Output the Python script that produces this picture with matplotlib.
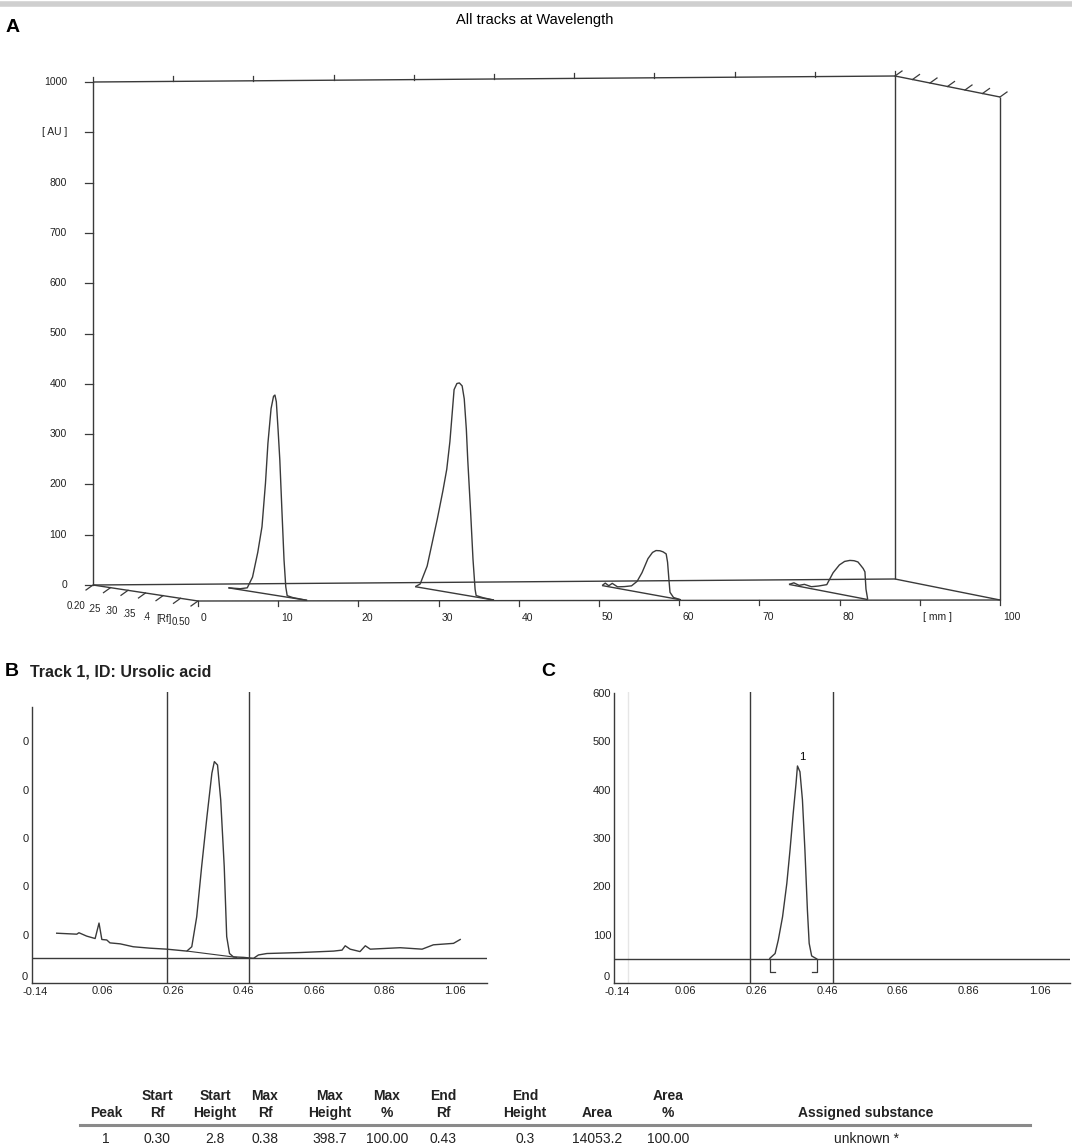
import numpy as np
import matplotlib.pyplot as plt
import matplotlib.transforms as mtransforms

plt.rcParams['font.family'] = ['Liberation Sans', 'DejaVu Sans']
narrow = ['Liberation Sans Narrow', 'Liberation Sans', 'DejaVu Sans']

# ---------------- data: panel A (3D view of all tracks) ----------------
au_ticks = [0, 100, 200, 300, 400, 500, 600, 700, 800, 900, 1000]
au_labels = ['0', '100', '200', '300', '400', '500', '600', '700', '800', '[ AU ]', '1000']
mm_ticks = [0, 10, 20, 30, 40, 50, 60, 70, 80, 90, 100]
mm_labels = ['0', '10', '20', '30', '40', '50', '60', '70', '80', '[ mm ]', '100']
depth_ticks = [0.20, 0.25, 0.30, 0.35, 0.40, 0.45, 0.50]
depth_labels = ['0.20', '.25', '.30', '.35', '.4', '[Rf]', '0.50']

track_mm = [14.0, 37.3, 60.6, 83.9]
track_rf = [
    [0.266, 0.30, 0.32, 0.335, 0.35, 0.362, 0.372, 0.379, 0.388, 0.395, 0.399,
     0.403, 0.408, 0.413, 0.419, 0.425, 0.430, 0.434, 0.45, 0.491],
    [0.266, 0.28, 0.30, 0.315, 0.329, 0.345, 0.356, 0.365, 0.377, 0.385, 0.392,
     0.400, 0.406, 0.412, 0.416, 0.424, 0.431, 0.437, 0.44, 0.46, 0.491],
    [0.266, 0.275, 0.285, 0.295, 0.31, 0.33, 0.35, 0.366, 0.38, 0.397, 0.41,
     0.42, 0.431, 0.44, 0.449, 0.453, 0.457, 0.46, 0.47, 0.491],
    [0.266, 0.28, 0.295, 0.31, 0.33, 0.35, 0.374, 0.392, 0.41, 0.425, 0.44,
     0.452, 0.463, 0.47, 0.478, 0.483, 0.486, 0.491],
]
track_au = [
    [0, 2, 6, 29, 80, 132, 220, 300, 370, 395, 398, 385, 330, 270, 170, 73, 20, 3, 1, 0],
    [0, 7, 45, 95, 142, 200, 244, 300, 405, 418, 420, 415, 390, 330, 270, 170, 74, 15, 3, 1, 0],
    [0, 6, 2, 8, 3, 6, 10, 21, 40, 70, 84, 89, 90, 89, 86, 70, 35, 11, 2, 0],
    [0, 5, 2, 6, 4, 8, 14, 40, 58, 67, 71, 72, 71, 66, 60, 54, 20, 0],
]

# ---------------- data: panel B (track 1 densitogram) ----------------
b_rf = [-0.07, -0.013, -0.007, 0.015, 0.039, 0.05, 0.058, 0.072, 0.081, 0.11, 0.147,
        0.195, 0.242, 0.299, 0.313, 0.327, 0.341, 0.356, 0.37, 0.377, 0.386, 0.395,
        0.405, 0.412, 0.42, 0.431, 0.46, 0.488, 0.502, 0.526, 0.62, 0.715, 0.739,
        0.748, 0.762, 0.79, 0.805, 0.819, 0.904, 0.966, 0.998, 1.036, 1.055, 1.074]
b_au = [103, 101, 104, 97, 92, 124, 90, 89, 83, 81, 75,
        72, 70, 66, 75, 137, 241, 344, 434, 458, 451, 379,
        241, 96, 61, 54, 53, 51, 58, 61, 63, 66, 68,
        77, 70, 65, 77, 70, 73, 70, 79, 81, 82, 90]
b_base_rf = [0.30, 0.44]
b_base_au = [66, 53]
b_level = 52

# ---------------- data: panel C (integrated peak) ----------------
c_rf = [0.299, 0.314, 0.323, 0.335, 0.347, 0.356, 0.365, 0.373, 0.377, 0.384,
        0.391, 0.398, 0.405, 0.41, 0.417, 0.431]
c_au = [51, 61, 89, 137, 206, 275, 351, 413, 449, 437,
        379, 275, 151, 82, 56, 50]
c_level = 50
c_peak_label = '1'

window_rf = [0.243, 0.476]
rf_ticks = [-0.14, 0.06, 0.26, 0.46, 0.66, 0.86, 1.06]
rf_labels = ['-0.14', '0.06', '0.26', '0.46', '0.66', '0.86', '1.06']
b_yticks = [0, 100, 200, 300, 400, 500]
b_ylabels = ['0', '0', '0', '0', '0', '0']   # left part of the labels is cut off in the scan
c_yticks = [0, 100, 200, 300, 400, 500, 600]

# ---------------- data: results table ----------------
col_head1 = ['', 'Start', 'Start', 'Max', 'Max', 'Max', 'End', 'End', '', 'Area', '']
col_head2 = ['Peak', 'Rf', 'Height', 'Rf', 'Height', '%', 'Rf', 'Height', 'Area', '%',
             'Assigned substance']
row_values = ['1', '0.30', '2.8', '0.38', '398.7', '100.00', '0.43', '0.3', '14053.2',
              '100.00', 'unknown *']
col_x = [106, 157, 215, 265, 330, 387, 443, 525, 597, 668, 866]

W, H = 1072, 1147
fig = plt.figure(figsize=(W / 100, H / 100), dpi=100)
ax = fig.add_axes([0, 0, 1, 1])
ax.set_xlim(0, W)
ax.set_ylim(H, 0)
ax.axis('off')

lc = '#3a3a3a'


def proj(mm, rf, au):
    # oblique projection of (track position, Rf, signal) onto the page
    mm = np.asarray(mm, float)
    d = (np.asarray(rf, float) - 0.20) / 0.30
    x = 93 + 8.02 * mm + 105 * d
    y = 585 - 0.06 * mm + (16 + 0.05 * mm) * d - 0.503 * np.asarray(au, float)
    return x, y


def seg(p, lw=1.0):
    ax.plot(p[0], p[1], color=lc, lw=lw, solid_capstyle='butt')


# frame of the 3D box
seg(proj([0, 0], [0.2, 0.2], [0, 1000]))
seg(proj([0, 100], [0.2, 0.2], [1000, 1000]))
seg(proj([0, 100], [0.2, 0.2], [0, 0]))
seg(proj([100, 100], [0.2, 0.2], [0, 1000]))
seg(proj([0, 100], [0.5, 0.5], [0, 0]))
seg(proj([0, 0], [0.2, 0.5], [0, 0]))
seg(proj([100, 100], [0.2, 0.5], [0, 0]))
seg(proj([100, 100], [0.2, 0.5], [1000, 1000]))
seg(proj([100, 100], [0.5, 0.5], [0, 1000]))

# AU axis ticks and labels
for v, lab in zip(au_ticks, au_labels):
    x, y = proj(0, 0.2, v)
    ax.plot([x - 8, x], [y, y], color=lc, lw=0.9)
    ax.text(x - 26, y, lab, ha='right', va='center', fontsize=7.5, color='#222')

# ticks on the top back edge and the front mm axis
for v, lab in zip(mm_ticks, mm_labels):
    x, y = proj(v, 0.2, 1000)
    ax.plot([x, x], [y, y - 5], color=lc, lw=0.9)
    x, y = proj(v, 0.5, 0)
    ax.plot([x, x], [y, y + 5], color=lc, lw=0.9)
    ax.text(x + 3, y + 17, lab, ha='left', va='center', fontsize=7.5, color='#222')

# depth (Rf) ticks on the left floor edge and the top right edge
for v, lab in zip(depth_ticks, depth_labels):
    x, y = proj(0, v, 0)
    ax.plot([x, x - 7], [y, y + 5], color=lc, lw=0.9)
    ax.text(x - 17, y + 21, lab, ha='center', va='center', fontsize=7, color='#222')
    x, y = proj(100, v, 1000)
    ax.plot([x, x + 7], [y, y - 5], color=lc, lw=0.9)

# the four tracks
for m, rf, au in zip(track_mm, track_rf, track_au):
    seg(proj([m, m], [rf[0], rf[-1]], [0, 0]))
    seg(proj(np.full(len(rf), m), rf, au))

ax.text(535, 20, 'All tracks at Wavelength', ha='center', va='center', fontsize=10.5)
ax.text(6, 27, 'A', ha='left', va='center', fontsize=14, fontweight='bold')
ax.text(5, 672, 'B', ha='left', va='center', fontsize=14, fontweight='bold')
ax.text(541, 672, 'C', ha='left', va='center', fontsize=14, fontweight='bold')
ax.text(30, 672, 'Track 1, ID: Ursolic acid', ha='left', va='center', fontsize=11.5,
        fontweight='bold', color='#222')
ax.plot([0, W], [4, 4], color='#cfcfcf', lw=4)

# ---------------- panels B and C ----------------
bottom = 1 - 983 / H
height = (983 - 692) / H
lift = mtransforms.ScaledTranslation(-1 / 72, 5 / 72, fig.dpi_scale_trans)


def densito(left_px, right_px, xmax):
    a = fig.add_axes([left_px / W, bottom, (right_px - left_px) / W, height])
    a.set_xlim(-0.14, xmax)
    a.set_ylim(0, 602)
    a.patch.set_alpha(0)
    for s in ['top', 'right']:
        a.spines[s].set_visible(False)
    for s in ['left', 'bottom']:
        a.spines[s].set_color(lc)
        a.spines[s].set_linewidth(1.0)
    a.tick_params(length=0, pad=2, labelsize=8, colors='#222')
    a.set_xticks(rf_ticks)
    a.set_xticklabels(rf_labels)
    for v in window_rf:
        a.axvline(v, color=lc, lw=1.0)
    return a


axB = densito(32, 487, 1.15)
axB.spines['left'].set_bounds(0, 571)
axB.set_yticks(b_yticks)
axB.set_yticklabels(b_ylabels)
axB.axhline(b_level, color=lc, lw=1.0)
axB.plot(b_rf, b_au, color=lc, lw=1.0)
axB.plot(b_base_rf, b_base_au, color=lc, lw=0.8)

axC = densito(614, 1070, 1.145)
axC.spines['left'].set_bounds(0, 600)
axC.set_yticks(c_yticks)
axC.axvline(-0.1, color='#e6e6e6', lw=1.0)
axC.axhline(c_level, color=lc, lw=1.0)
axC.plot(c_rf, c_au, color=lc, lw=1.0)
axC.text(c_rf[8] + 0.012, max(c_au) + 8, c_peak_label, ha='center', va='bottom', fontsize=8)
# integration brackets
axC.plot([c_rf[0], c_rf[0], c_rf[0] + 0.015], [c_level, 22, 22], color=lc, lw=0.9)
axC.plot([c_rf[-1], c_rf[-1], c_rf[-1] - 0.013], [c_level, 22, 22], color=lc, lw=0.9)

# the "0" at the origin sits just above the first Rf label
for a in (axB, axC):
    lab0 = a.get_yticklabels()[0]
    lab0.set_transform(lab0.get_transform() + lift)
    labx = a.get_xticklabels()[0]
    labx.set_transform(labx.get_transform() + mtransforms.ScaledTranslation(
        2 / 72, -1 / 72, fig.dpi_scale_trans))

# ---------------- results table ----------------
for x, h1, h2, v in zip(col_x, col_head1, col_head2, row_values):
    ax.text(x, 1096, h1, ha='center', va='center', fontsize=10, fontweight='bold',
            family=narrow, color='#222')
    ax.text(x, 1113, h2, ha='center', va='center', fontsize=10, fontweight='bold',
            family=narrow, color='#222')
    ax.text(x, 1139, v, ha='center', va='center', fontsize=10, family=narrow, color='#222')
ax.plot([80, 1030], [1125, 1125], color='#8a8a8a', lw=2.2)

fig.savefig('out.png', dpi=100)
